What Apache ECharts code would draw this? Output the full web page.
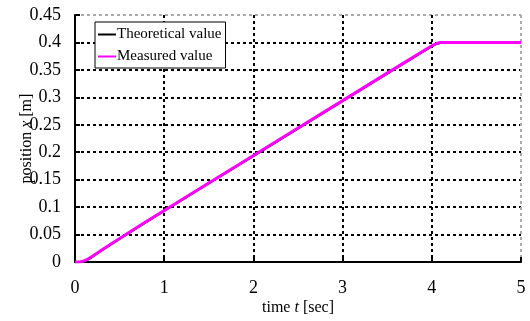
<!DOCTYPE html>
<html><head><meta charset="utf-8">
<script src="https://cdn.jsdelivr.net/npm/echarts@6/dist/echarts.min.js"></script>
<style>html,body{margin:0;padding:0;background:#fff}#c{width:530px;height:321px}</style>
</head><body><div id="c"></div>
<script>
var timeT = [0, 0.05, 0.1, 0.15, 0.2, 0.3, 0.5, 1, 2, 3, 4, 4.05, 4.1, 4.15, 5];
var theoretical = [0, 0, 0.0015, 0.005, 0.01, 0.021, 0.042, 0.093, 0.193, 0.293, 0.393, 0.397, 0.399, 0.4, 0.4];
var measured = [0, 0, 0.002, 0.006, 0.011, 0.022, 0.043, 0.094, 0.194, 0.294, 0.394, 0.398, 0.4, 0.4, 0.4];
var xTicks = [0, 1, 2, 3, 4, 5];
var yTicks = [0, 0.05, 0.1, 0.15, 0.2, 0.25, 0.3, 0.35, 0.4, 0.45];

function pairs(xs, ys){ return xs.map(function(x,i){return [x, ys[i]];}); }
var F = 'Liberation Serif';
var chart = echarts.init(document.getElementById('c'));
chart.setOption({
  animation: false,
  grid: {left: 75, right: 9, top: 15, bottom: 59, outerBoundsMode: 'none', containLabel: false},
  legend: {
    left: 95, top: 22, orient: 'vertical', itemGap: 7, itemWidth: 18, itemHeight: 2,
    padding: [5, 4, 4, 3], borderColor: '#000', borderWidth: 1, backgroundColor: '#fff',
    icon: 'rect',
    textStyle: {fontFamily: F, fontSize: 15, color: '#000', padding: [0,0,0,-4]},
    data: ['Theoretical value', 'Measured value']
  },
  xAxis: {
    type: 'value', min: xTicks[0], max: xTicks[xTicks.length-1], interval: 1,
    name: '{n|time }{i|t}{n| [sec]}', nameLocation: 'middle', nameGap: 38, nameMoveOverlap: false,
    nameTextStyle: {rich: {n: {fontFamily: F, fontSize: 16, color: '#000'}, i: {fontFamily: F, fontSize: 16, fontStyle: 'italic', color: '#000'}}},
    axisLine: {onZero: false, lineStyle: {color: '#000', width: 2}},
    axisTick: {inside: true, length: 5, lineStyle: {color: '#000', width: 2}},
    axisLabel: {fontFamily: F, fontSize: 18, color: '#000', margin: 17},
    splitLine: {show: true, lineStyle: {color: ['#000','#000','#000','#000','#000','#aaa'], type: [3,3], width: 2}}
  },
  yAxis: {
    type: 'value', min: yTicks[0], max: yTicks[yTicks.length-1], interval: 0.05,
    name: '{n|position }{i|x}{n| [m]}', nameLocation: 'middle', nameGap: 40, nameRotate: 90, nameMoveOverlap: false,
    nameTextStyle: {rich: {n: {fontFamily: F, fontSize: 16, color: '#000'}, i: {fontFamily: F, fontSize: 16, fontStyle: 'italic', color: '#000'}}},
    axisLine: {show: true, onZero: false, lineStyle: {color: '#000', width: 2}},
    axisTick: {show: true, inside: true, length: 5, lineStyle: {color: '#000', width: 2}},
    axisLabel: {fontFamily: F, fontSize: 18, color: '#000', margin: 14, formatter: function(v){ return String(+v.toFixed(2)); }},
    splitLine: {show: true, lineStyle: {color: ['#000','#000','#000','#000','#000','#000','#000','#000','#000','#aaa'], type: [3,3], width: 2}}
  },
  series: [
    {name: 'Theoretical value', type: 'line', data: pairs(timeT, theoretical), showSymbol: false, smooth: 0.3,
     lineStyle: {color: '#000', width: 2}, itemStyle: {color: '#000'}},
    {name: 'Measured value', type: 'line', data: pairs(timeT, measured), showSymbol: false, smooth: 0.3,
     lineStyle: {color: '#ff00ff', width: 3}, itemStyle: {color: '#ff00ff'}}
  ]
});
</script></body></html>
